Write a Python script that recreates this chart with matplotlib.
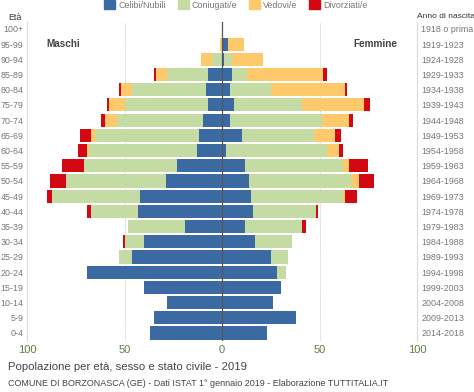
import matplotlib.pyplot as plt
import numpy as np

plt.rcParams['font.family'] = ['Liberation Sans', 'DejaVu Sans']

# age classes, bottom to top
ages  = ['0-4', '5-9', '10-14', '15-19', '20-24', '25-29', '30-34', '35-39',
         '40-44', '45-49', '50-54', '55-59', '60-64', '65-69', '70-74',
         '75-79', '80-84', '85-89', '90-94', '95-99', '100+']
years = ['2014-2018', '2009-2013', '2004-2008', '1999-2003', '1994-1998',
         '1989-1993', '1984-1988', '1979-1983', '1974-1978', '1969-1973',
         '1964-1968', '1959-1963', '1954-1958', '1949-1953', '1944-1948',
         '1939-1943', '1934-1938', '1929-1933', '1924-1928', '1919-1923',
         '1918 o prima']

# maschi
celibi   = [37, 35, 28, 40, 69, 46, 40, 19, 43, 42, 29, 23, 13, 12, 10, 7, 8, 7, 0, 0, 0]
coniug_m = [0, 0, 0, 0, 0, 7, 10, 29, 24, 45, 51, 48, 55, 53, 44, 43, 38, 21, 5, 0, 0]
vedovi   = [0, 0, 0, 0, 0, 0, 0, 0, 0, 0, 0, 0, 1, 2, 6, 8, 6, 6, 6, 1, 0]
divorz_m = [0, 0, 0, 0, 0, 0, 1, 0, 2, 3, 8, 11, 5, 6, 2, 1, 1, 1, 0, 0, 0]

# femmine
nubili   = [23, 38, 26, 30, 28, 25, 17, 12, 16, 15, 14, 12, 2, 10, 4, 6, 4, 5, 1, 3, 0]
coniug_f = [0, 0, 0, 0, 5, 9, 19, 29, 32, 47, 52, 50, 52, 37, 47, 35, 21, 8, 4, 0, 0]
vedove   = [0, 0, 0, 0, 0, 0, 0, 0, 0, 1, 4, 3, 6, 11, 14, 32, 38, 39, 16, 8, 0]
divorz_f = [0, 0, 0, 0, 0, 0, 0, 2, 1, 6, 8, 10, 2, 3, 2, 3, 1, 2, 0, 0, 0]

labels = ['Celibi/Nubili', 'Coniugati/e', 'Vedovi/e', 'Divorziati/e']
colors = ['#3b6aa3', '#c5dba4', '#fdc96a', '#d40812']

fig = plt.figure(figsize=(4.74, 3.92), dpi=100)
ax = fig.add_axes([0.057, 0.130, 0.823, 0.814])

y = np.arange(len(ages))
males   = [celibi, coniug_m, vedovi, divorz_m]
females = [nubili, coniug_f, vedove, divorz_f]

left_m = np.zeros(len(ages))
left_f = np.zeros(len(ages))
for m, f, c in zip(males, females, colors):
    m = np.array(m, dtype=float)
    f = np.array(f, dtype=float)
    ax.barh(y, -m, left=-left_m, height=0.86, color=c, linewidth=0)
    ax.barh(y, f, left=left_f, height=0.86, color=c, linewidth=0)
    left_m += m
    left_f += f

ax.set_xlim(-100, 100)
ax.set_ylim(-0.53, 20.46)
for xv in (-50, 50):
    ax.axvline(xv, color='#cccccc', lw=0.7, ls=(0, (1, 1)), zorder=0)
ax.axvline(0, color='#555555', lw=0.9, zorder=3)

ax.set_xticks([-100, -50, 0, 50, 100])
ax.set_xticklabels(['100', '50', '0', '50', '100'])
ax.tick_params(axis='x', length=0, labelsize=8, labelcolor='#5d7f3c', pad=3)
ax.set_yticks(y)
ax.set_yticklabels(ages)
ax.tick_params(axis='y', length=0, labelsize=6.4, labelcolor='#777777', pad=2.5)

ax2 = ax.twinx()
ax2.set_ylim(ax.get_ylim())
ax2.set_yticks(y)
ax2.set_yticklabels(years)
ax2.tick_params(axis='y', length=0, labelsize=6.4, labelcolor='#777777', pad=3)

for a in (ax, ax2):
    for s in ('top', 'bottom'):
        a.spines[s].set_visible(False)
    a.spines['left'].set_color('#dddddd')
    a.spines['right'].set_color('#dddddd')
    a.spines['left'].set_linewidth(0.8)
    a.spines['right'].set_linewidth(0.8)

ax.text(-90, 19, 'Maschi', fontsize=7.2, fontweight='bold', color='#444444', va='center')
ax.text(90, 19, 'Femmine', fontsize=7.2, fontweight='bold', color='#444444', va='center', ha='right')

fig.text(8 / 474, 1 - 17 / 392, 'Età', fontsize=6.4, color='#333333', va='center')
fig.text(417 / 474, 1 - 17 / 392, 'Anno di nascita', fontsize=6.0, color='#333333', va='center')

# legend
handles = [plt.Rectangle((0, 0), 1, 1, color=c) for c in colors]
fig.legend(handles, labels, loc='center', bbox_to_anchor=(236 / 474, 1 - 5 / 392), ncol=4,
           frameon=False, fontsize=6.4, handlelength=1.25, handleheight=1.05,
           handletextpad=0.35, columnspacing=1.3, labelcolor='#777777',
           borderaxespad=0, borderpad=0)

fig.text(8 / 474, 1 - 367 / 392, 'Popolazione per età, sesso e stato civile - 2019',
         fontsize=8.2, color='#444444', va='center')
fig.text(8 / 474, 1 - 383 / 392,
         'COMUNE DI BORZONASCA (GE) - Dati ISTAT 1° gennaio 2019 - Elaborazione TUTTITALIA.IT',
         fontsize=6.5, color='#444444', va='center')

fig.savefig('out.png', dpi=100)
